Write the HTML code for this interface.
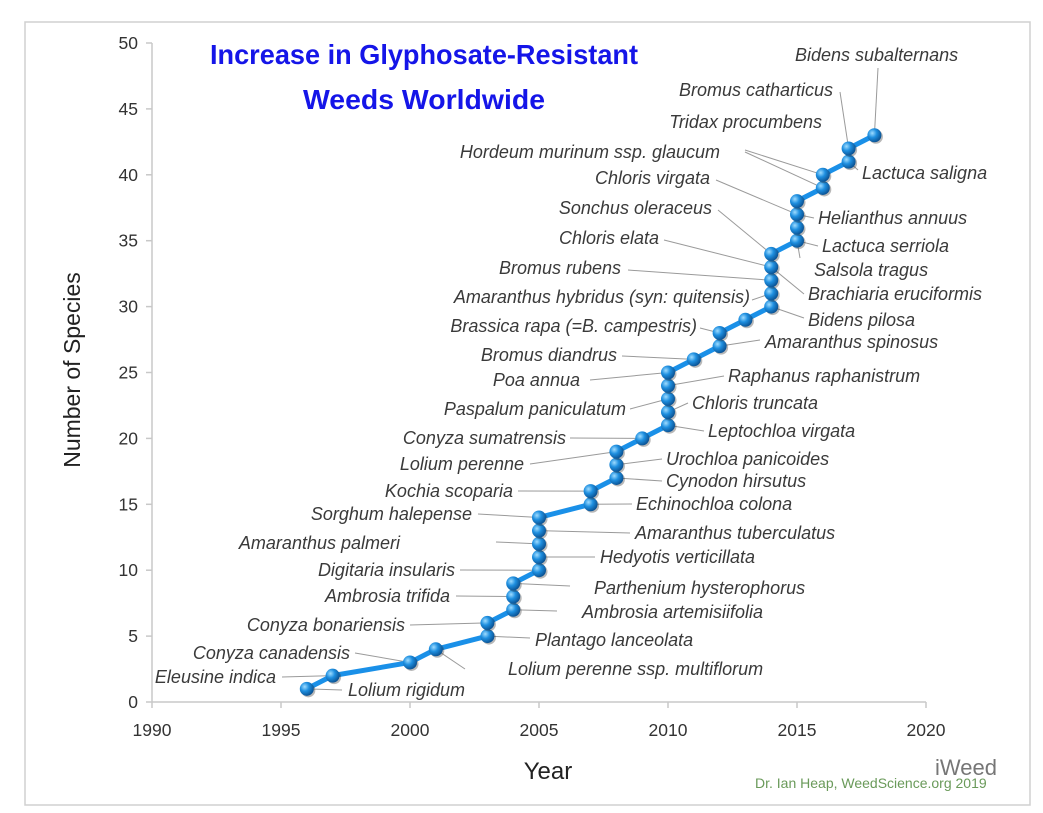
<!DOCTYPE html>
<html><head><meta charset="utf-8"><style>
html,body{margin:0;padding:0;background:#fff;}
svg{display:block;font-family:"Liberation Sans",Arial,sans-serif;}
</style></head><body>
<svg id="c" width="1043" height="813" viewBox="0 0 1043 813" xmlns="http://www.w3.org/2000/svg">
<defs>
<radialGradient id="g" cx="0.35" cy="0.35" r="0.7">
<stop offset="0" stop-color="#9fdcff"/><stop offset="0.45" stop-color="#1e8fe0"/><stop offset="1" stop-color="#0a4f8f"/>
</radialGradient>
</defs>
<rect x="25" y="22" width="1005" height="783" fill="#fff" stroke="#d0d0d0" stroke-width="1.5"/>
<text x="424" y="64" text-anchor="middle" font-size="28" font-weight="bold" fill="#1515e8" textLength="428" lengthAdjust="spacingAndGlyphs">Increase in Glyphosate-Resistant</text>
<text x="424" y="109" text-anchor="middle" font-size="28" font-weight="bold" fill="#1515e8" textLength="242" lengthAdjust="spacingAndGlyphs">Weeds Worldwide</text>
<g id="ax" stroke="#c8c8c8" stroke-width="1.5" fill="none"></g>
<g id="lbl" font-size="18" fill="#333"></g>
<g id="leaders" stroke="#9a9a9a" stroke-width="1" fill="none"></g>
<polyline id="line" fill="none" stroke="#1a90e8" stroke-width="5" stroke-linejoin="round"/>
<g id="dots"></g>
<g id="txt" font-size="18" font-style="italic" fill="#3a3a3a"></g>
<text x="80" y="370" transform="rotate(-90 80 370)" text-anchor="middle" font-size="23" fill="#222">Number of Species</text>
<text x="548" y="779" text-anchor="middle" font-size="24" fill="#222">Year</text>
<text x="755" y="788" font-size="14" fill="#6a9a5a">Dr. Ian Heap, WeedScience.org 2019</text>
<text x="935" y="775" font-size="22" fill="#555" opacity="0.8">iWeed</text>
</svg>
<script>
const NS="http://www.w3.org/2000/svg";
const X=y=>152+(y-1990)*25.8, Y=v=>702-v*13.18;
function el(p,t,a,tx){const e=document.createElementNS(NS,t);for(const k in a)e.setAttribute(k,a[k]);if(tx!==undefined)e.textContent=tx;document.getElementById(p).appendChild(e);return e;}
el("ax","line",{x1:152,y1:43,x2:152,y2:702});
el("ax","line",{x1:152,y1:702,x2:926,y2:702});
for(let v=0;v<=50;v+=5){el("ax","line",{x1:146,y1:Y(v),x2:152,y2:Y(v)});el("lbl","text",{x:138,y:Y(v)+6,"text-anchor":"end","font-size":17.5},v);}
for(let y=1990;y<=2020;y+=5){el("ax","line",{x1:X(y),y1:702,x2:X(y),y2:708});el("lbl","text",{x:X(y),y:736,"text-anchor":"middle","font-size":17.5},y);}
const pts=[[1996,1],[1997,2],[2000,3],[2001,4],[2003,5],[2003,6],[2004,7],[2004,8],[2004,9],[2005,10],[2005,11],[2005,12],[2005,13],[2005,14],[2007,15],[2007,16],[2008,17],[2008,18],[2008,19],[2009,20],[2010,21],[2010,22],[2010,23],[2010,24],[2010,25],[2011,26],[2012,27],[2012,28],[2013,29],[2014,30],[2014,31],[2014,32],[2014,33],[2014,34],[2015,35],[2015,36],[2015,37],[2015,38],[2016,39],[2016,40],[2017,41],[2017,42],[2018,43]];
const L=[
["Bidens subalternans",795,55,"start",2018,43,878,68],
["Bromus catharticus",833,90,"end",2017,42,840,92],
["Tridax procumbens",822,122,"end",2016,40,745,150],
["Hordeum murinum ssp. glaucum",720,152,"end",2016,39,745,152],
["Chloris virgata",710,178,"end",2015,37,716,180],
["Sonchus oleraceus",712,208,"end",2014,34,718,210],
["Chloris elata",659,238,"end",2014,33,664,240],
["Bromus rubens",621,268,"end",2014,32,628,270],
["Amaranthus hybridus (syn: quitensis)",750,297,"end",2014,31,752,300],
["Brassica rapa (=B. campestris)",697,326,"end",2012,28,700,328],
["Bromus diandrus",617,355,"end",2011,26,622,356],
["Poa annua",580,380,"end",2010,25,590,380],
["Paspalum paniculatum",626,409,"end",2010,23,630,409],
["Conyza sumatrensis",566,438,"end",2009,20,570,438],
["Lolium perenne",524,464,"end",2008,19,530,464],
["Kochia scoparia",513,491,"end",2007,16,518,491],
["Sorghum halepense",472,514,"end",2005,14,478,514],
["Amaranthus palmeri",400,543,"end",2005,12,496,542],
["Digitaria insularis",455,570,"end",2005,10,460,570],
["Ambrosia trifida",450,596,"end",2004,8,456,596],
["Conyza bonariensis",405,625,"end",2003,6,410,625],
["Conyza canadensis",350,653,"end",2000,3,355,653],
["Eleusine indica",276,677,"end",1997,2,282,677],
["Lactuca saligna",862,173,"start",2017,41,858,170],
["Helianthus annuus",818,218,"start",2015,37,814,218],
["Lactuca serriola",822,246,"start",2015,35,818,246],
["Salsola tragus",814,270,"start",2015,35,800,258],
["Brachiaria eruciformis",808,294,"start",2014,33,804,294],
["Bidens pilosa",808,320,"start",2014,30,804,318],
["Amaranthus spinosus",765,342,"start",2012,27,760,340],
["Raphanus raphanistrum",728,376,"start",2010,24,724,376],
["Chloris truncata",692,403,"start",2010,22,688,403],
["Leptochloa virgata",708,431,"start",2010,21,704,431],
["Urochloa panicoides",666,459,"start",2008,18,662,459],
["Cynodon hirsutus",666,481,"start",2008,17,662,481],
["Echinochloa colona",636,504,"start",2007,15,632,504],
["Amaranthus tuberculatus",635,533,"start",2005,13,630,533],
["Hedyotis verticillata",600,557,"start",2005,11,595,557],
["Parthenium hysterophorus",594,588,"start",2004,9,570,586],
["Ambrosia artemisiifolia",582,612,"start",2004,7,557,611],
["Plantago lanceolata",535,640,"start",2003,5,530,638],
["Lolium perenne ssp. multiflorum",508,669,"start",2001,4,465,669],
["Lolium rigidum",348,690,"start",1996,1,342,690]];
L.forEach(l=>{el("txt","text",{x:l[1],y:l[2]+6,"text-anchor":l[3]},l[0]);el("leaders","line",{x1:l[6],y1:l[7],x2:X(l[4]),y2:Y(l[5])});});
document.getElementById("line").setAttribute("points",pts.map(p=>X(p[0])+","+Y(p[1])).join(" "));
pts.forEach(p=>{el("dots","circle",{cx:X(p[0])+1.5,cy:Y(p[1])+1.5,r:7,fill:"#333",opacity:0.35});el("dots","circle",{cx:X(p[0]),cy:Y(p[1]),r:7,fill:"url(#g)"});});
</script>
</body></html>
